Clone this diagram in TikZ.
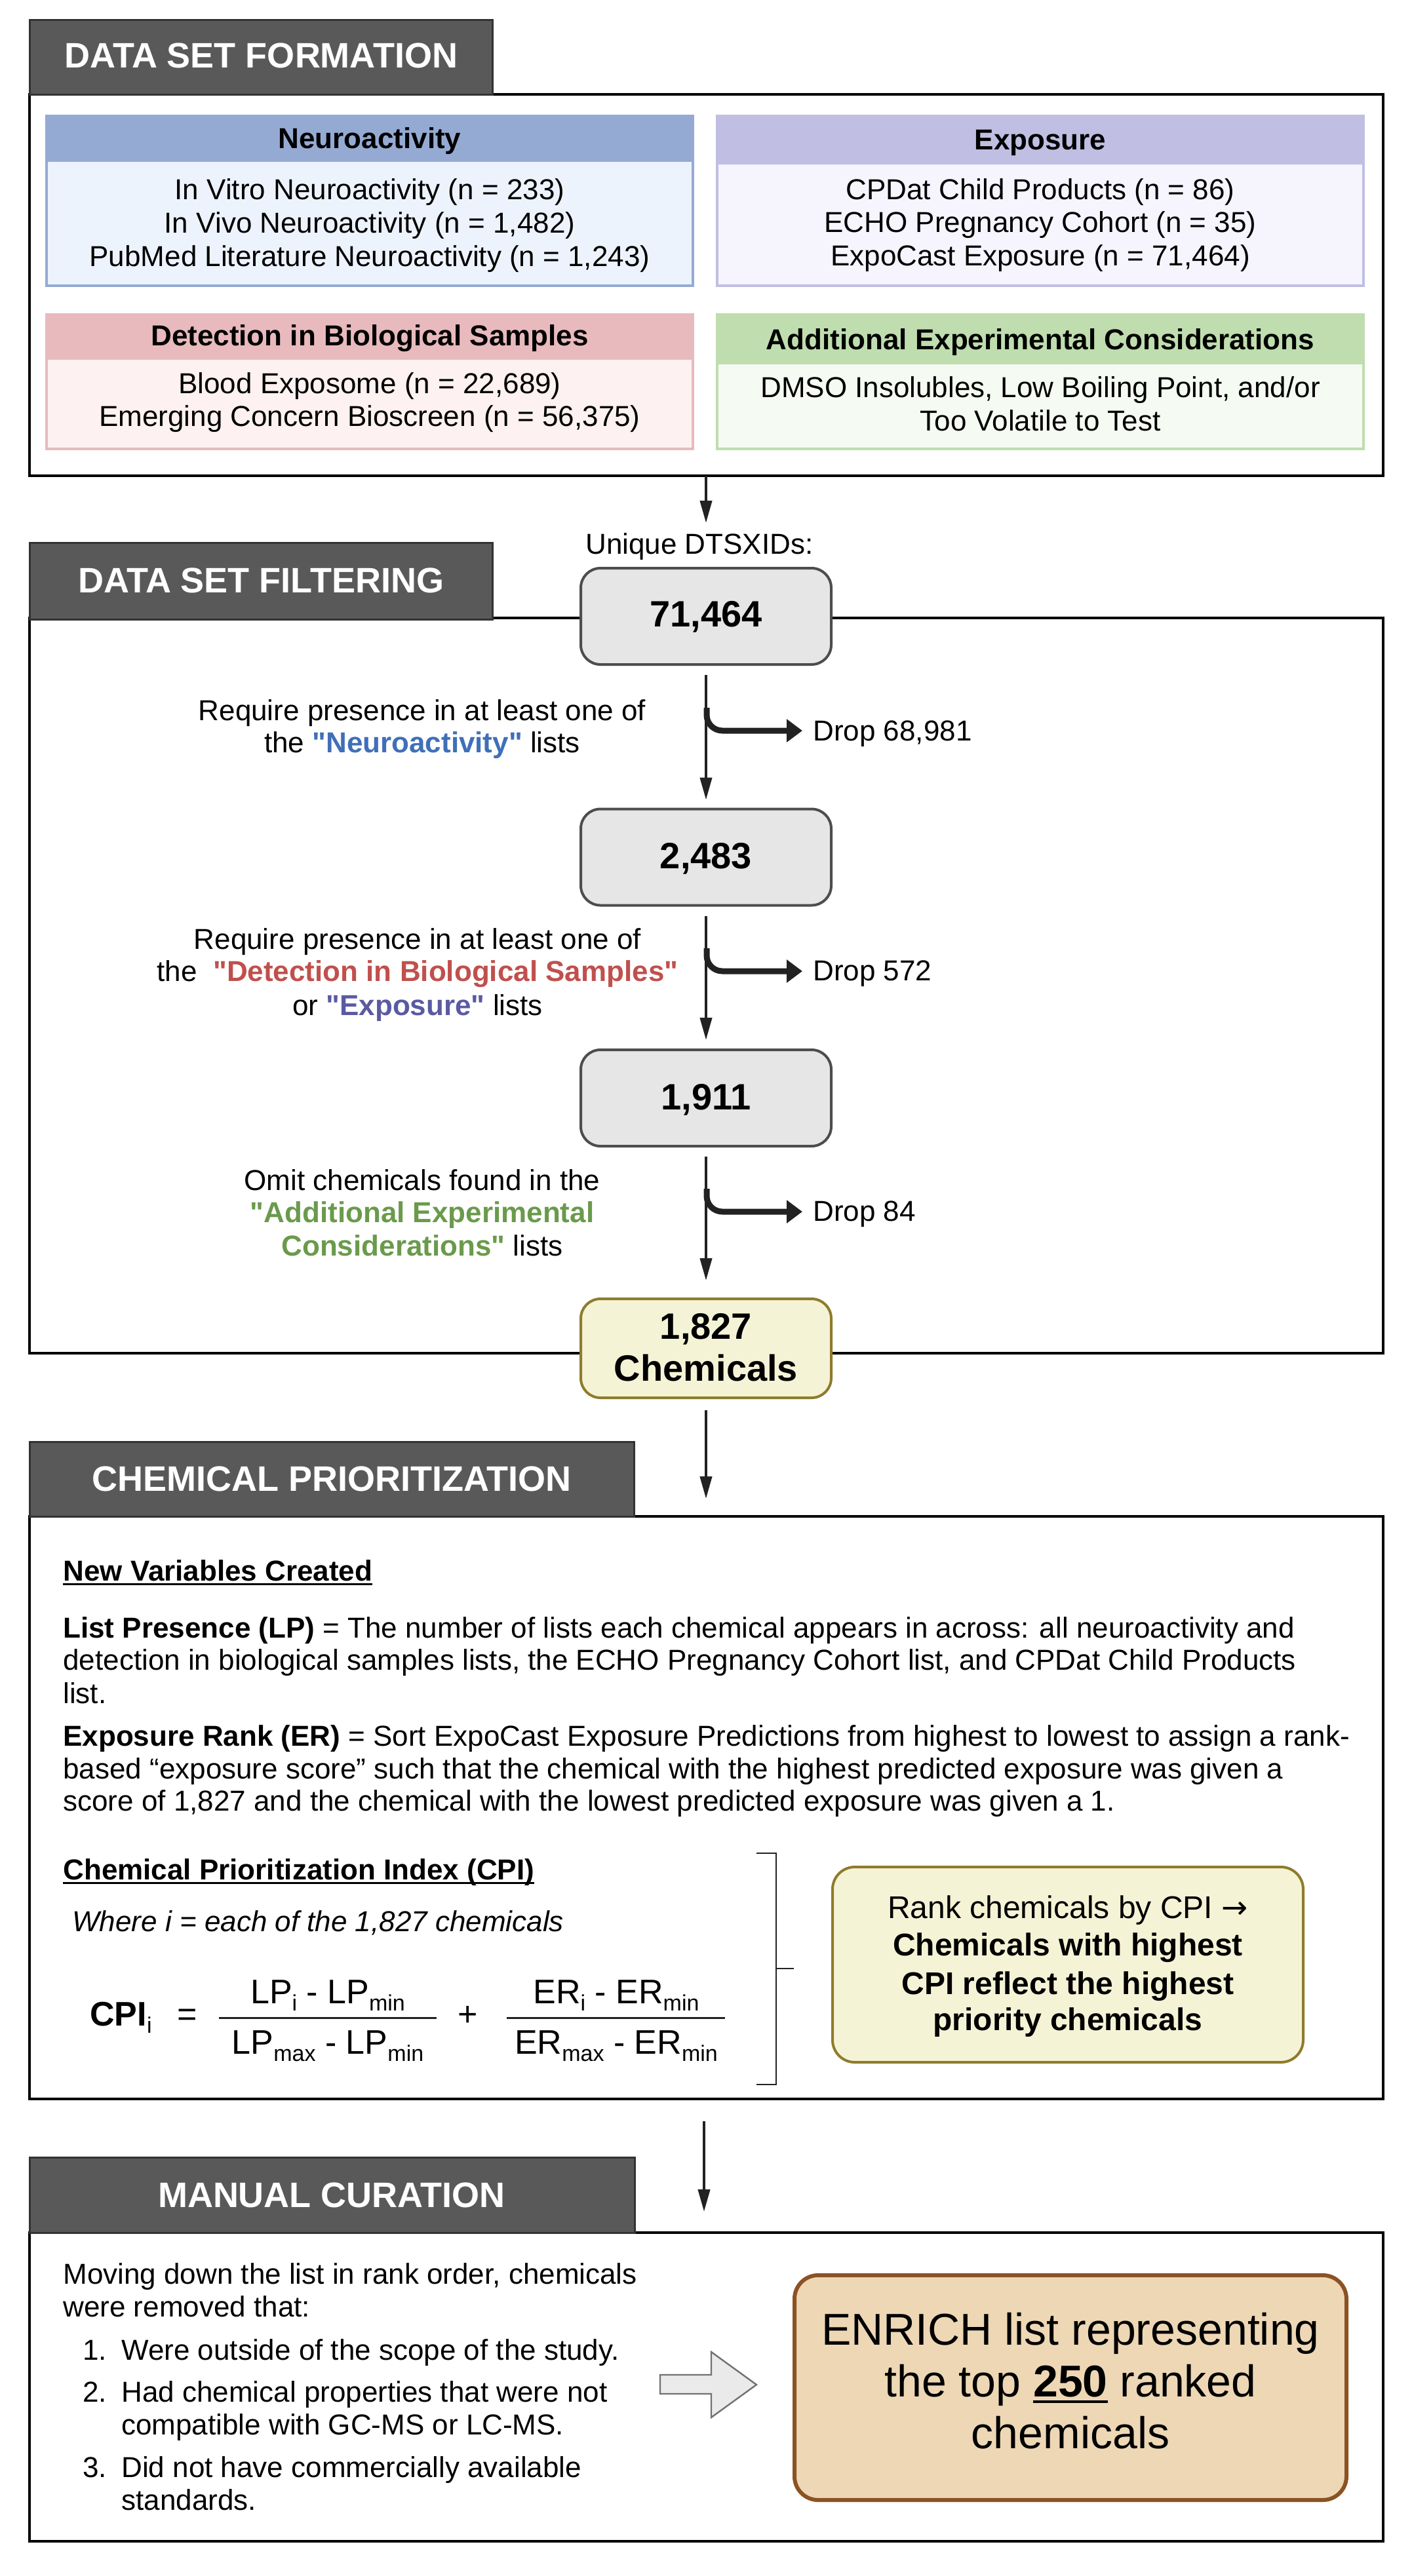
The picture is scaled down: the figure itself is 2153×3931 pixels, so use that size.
\documentclass[tikz,border=0pt]{standalone}
\usepackage{fontspec}
\setmainfont{Liberation Sans}
\newfontfamily\djv{DejaVu Sans}
\newfontfamily\qf{Liberation Sans}
\usetikzlibrary{arrows.meta}
\definecolor{tabfill}{HTML}{595959}
\definecolor{tabdraw}{HTML}{333333}
\definecolor{nahdr}{HTML}{95AAD3}
\definecolor{nabody}{HTML}{EDF3FC}
\definecolor{exhdr}{HTML}{C0BEE2}
\definecolor{exbody}{HTML}{F6F4FD}
\definecolor{dthdr}{HTML}{E8BABD}
\definecolor{dtbody}{HTML}{FDF1F1}
\definecolor{adhdr}{HTML}{BFDDAE}
\definecolor{adbody}{HTML}{F5FBF2}
\definecolor{grayfill}{HTML}{E6E6E6}
\definecolor{graydraw}{HTML}{4D4D4D}
\definecolor{yelfill}{HTML}{F5F3D6}
\definecolor{yeldraw}{HTML}{8E7C2C}
\definecolor{tanfill}{HTML}{EDD7B5}
\definecolor{tandraw}{HTML}{8B5224}
\definecolor{nablue}{HTML}{3F6FB8}
\definecolor{dtred}{HTML}{C0504D}
\definecolor{expurp}{HTML}{5A5AA3}
\definecolor{adgreen}{HTML}{6A9A4C}
\definecolor{arrcol}{HTML}{222222}
\newcommand\fsz[1]{\fontsize{#1}{#1}\selectfont}
\newcommand\sbx[1]{\raisebox{-0.22em}{\fontsize{17}{17}\selectfont #1}}
\newcommand\myul[1]{\leavevmode\setbox0\hbox{#1}\rlap{\rule[-0.15em]{\wd0}{0.065em}}\box0}
\newcommand\dq{{\qf"}}
\begin{document}
\begin{tikzpicture}[x=0.5pt,y=-0.5pt,
  tab/.style={fill=tabfill,draw=tabdraw,line width=1.5pt},
  tabtext/.style={text=white,font=\fsz{27}\bfseries,anchor=base,inner sep=0pt},
  secbox/.style={draw=black,line width=2pt},
  txt/.style={font=\fsz{22},anchor=base,inner sep=0pt},
  txtw/.style={txt,anchor=base west},
  hdrtxt/.style={txt,font=\fsz{22}\bfseries},
  cntbox/.style={rounded corners=15pt,fill=grayfill,draw=graydraw,line width=2pt,minimum width=191pt,minimum height=73.5pt,inner sep=0pt},
  cnttxt/.style={font=\fsz{28}\bfseries,anchor=base,inner sep=0pt},
  frm/.style={font=\fsz{26},anchor=base,inner sep=0pt},
  arr/.style={draw=arrcol,line width=2pt,-{Triangle[length=17pt,width=9pt]}},
  droparr/.style={draw=arrcol,line width=4.5pt,rounded corners=12pt,-{Triangle[length=12pt,width=17pt]}},
  innerbox/.style={line width=2pt}
]
\useasboundingbox (0,0) rectangle (2153,3931);
\fill[white] (0,0) rectangle (2153,3931);

% ================= SECTION 1 =================
\draw[secbox] (45,144) rectangle (2110,726);
\draw[tab] (45,30) rectangle (751,144);
\node[tabtext] (t1) at (398,103) {DATA SET FORMATION};

\fill[nabody] (71,177) rectangle (1057,436);
\fill[nahdr] (71,177) rectangle (1057,247);
\draw[innerbox,nahdr] (71,177) rectangle (1057,436);
\fill[exbody] (1094,177) rectangle (2080,436);
\fill[exhdr] (1094,177) rectangle (2080,251);
\draw[innerbox,exhdr] (1094,177) rectangle (2080,436);
\fill[dtbody] (71,480) rectangle (1057,685);
\fill[dthdr] (71,480) rectangle (1057,549);
\draw[innerbox,dthdr] (71,480) rectangle (1057,685);
\fill[adbody] (1094,480) rectangle (2080,685);
\fill[adhdr] (1094,480) rectangle (2080,556);
\draw[innerbox,adhdr] (1094,480) rectangle (2080,685);

\node[hdrtxt] (naH) at (564,226) {Neuroactivity};
\node[txt] (na1) at (564,304) {In Vitro Neuroactivity (n = 233)};
\node[txt] (na2) at (564,355) {In Vivo Neuroactivity (n = 1,482)};
\node[txt] (na3) at (564,406) {PubMed Literature Neuroactivity (n = 1,243)};
\node[hdrtxt] (exH) at (1587,228) {Exposure};
\node[txt] (ex1) at (1587,304) {CPDat Child Products (n = 86)};
\node[txt] (ex2) at (1587,354) {ECHO Pregnancy Cohort (n = 35)};
\node[txt] (ex3) at (1587,405) {ExpoCast Exposure (n = 71,464)};
\node[hdrtxt] (dtH) at (564,527) {Detection in Biological Samples};
\node[txt] (dt1) at (564,600) {Blood Exposome (n = 22,689)};
\node[txt] (dt2) at (564,650) {Emerging Concern Bioscreen (n = 56,375)};
\node[hdrtxt] (adH) at (1587,533) {Additional Experimental Considerations};
\node[txt] (ad1) at (1587,606) {DMSO Insolubles, Low Boiling Point, and/or};
\node[txt] (ad2) at (1587,657) {Too Volatile to Test};

\coordinate (s1b) at (1077,726);
\coordinate (a1t) at (1077,798);
\draw[arr] (s1b) -- (a1t);

% ================= SECTION 2 =================
\draw[secbox] (45,943) rectangle (2110,2065);
\draw[tab] (45,828) rectangle (751,945);
\node[tabtext] (t2) at (398,904) {DATA SET FILTERING};

\node[txt] (uniq) at (1067,845) {Unique DTSXIDs:};

\node[cntbox] (n1) at (1077,940.5) {};
\node[cnttxt] (n1t) at (1077,956) {71,464};
\node[cntbox] (n2) at (1077,1308) {};
\node[cnttxt] (n2t) at (1077,1325) {2,483};
\node[cntbox] (n3) at (1077,1675.5) {};
\node[cnttxt] (n3t) at (1077,1693) {1,911};
\node[cntbox,fill=yelfill,draw=yeldraw,minimum height=75.5pt] (n4) at (1077,2057.5) {};
\node[cnttxt] (n4a) at (1077,2043) {1,827};
\node[cnttxt] (n4b) at (1077,2107) {Chemicals};

\draw[arr] ([yshift=-7pt]n1.south) -- ([yshift=6pt]n2.north);
\draw[arr] ([yshift=-7pt]n2.south) -- ([yshift=6.5pt]n3.north);
\draw[arr] ([yshift=-7pt]n3.south) -- ([yshift=13pt]n4.north);

% drop branches
\node[txtw] (d1) at (1240,1130) {Drop 68,981};
\node[txtw] (d2) at (1240,1496) {Drop 572};
\node[txtw] (d3) at (1240,1863) {Drop 84};
\coordinate (b1) at (1078,1080);
\coordinate (b2) at (1078,1447);
\coordinate (b3) at (1078,1814);
\draw[droparr] (b1) |- ([xshift=-8pt]d1.west |- 0,1115);
\draw[droparr] (b2) |- ([xshift=-8pt]d2.west |- 0,1482);
\draw[droparr] (b3) |- ([xshift=-8pt]d3.west |- 0,1849);

% left texts
\node[txt] (r1a) at (644,1099) {Require presence in at least one of};
\node[txt] (r1b) at (644,1148) {the \textbf{\color{nablue}\dq Neuroactivity\dq} lists};
\node[txt] (r2a) at (637,1448) {Require presence in at least one of};
\node[txt] (r2b) at (637,1497) {the\ \ \textbf{\color{dtred}\dq Detection in Biological Samples\dq}};
\node[txt] (r2c) at (637,1549) {or \textbf{\color{expurp}\dq Exposure\dq} lists};
\node[txt] (r3a) at (644,1816) {Omit chemicals found in the};
\node[txt] (r3b) at (644,1865) {\textbf{\color{adgreen}\dq Additional Experimental}};
\node[txt] (r3c) at (644,1916) {\textbf{\color{adgreen}Considerations\dq} lists};

\coordinate (a4t) at (1077,2287);
\draw[arr] ([yshift=-8.5pt]n4.south) -- (a4t);

% ================= SECTION 3 =================
\draw[secbox] (45,2314) rectangle (2110,3203);
\draw[tab] (45,2200) rectangle (967,2314);
\node[tabtext] (t3) at (506,2275) {CHEMICAL PRIORITIZATION};

\node[txtw] (nv) at (96,2412) {\textbf{\myul{New Variables Created}}};
\node[txtw] (lp1) at (96,2499) {\textbf{List Presence (LP)} = The number of lists each chemical appears in across: all neuroactivity and};
\node[txtw] (lp2) at (96,2548) {detection in biological samples lists, the ECHO Pregnancy Cohort list, and CPDat Child Products};
\node[txtw] (lp3) at (96,2599) {list.};
\node[txtw] (er1) at (96,2664) {\textbf{Exposure Rank (ER)} = Sort ExpoCast Exposure Predictions from highest to lowest to assign a rank-};
\node[txtw] (er2) at (96,2714) {based “exposure score” such that the chemical with the highest predicted exposure was given a};
\node[txtw] (er3) at (96,2763) {score of 1,827 and the chemical with the lowest predicted exposure was given a 1.};
\node[txtw] (cpiH) at (96,2868) {\textbf{\myul{Chemical Prioritization Index (CPI)}}};
\node[txtw] (wh) at (110,2947) {\itshape Where i = each of the 1,827 chemicals};

\node[frm,anchor=base west] (cpi) at (137,3091) {\textbf{CPI}\sbx{i}};
\node[frm] (eq) at (286,3091) {=};
\node[frm] (f1n) at (500,3057) {LP\sbx{i} - LP\sbx{min}};
\node[frm] (f1d) at (500,3134) {LP\sbx{max} - LP\sbx{min}};
\draw[line width=1.5pt,arrcol] (334,3079) -- (666,3079);
\node[frm] (plus) at (714,3091) {+};
\node[frm] (f2n) at (940,3057) {ER\sbx{i} - ER\sbx{min}};
\node[frm] (f2d) at (940,3134) {ER\sbx{max} - ER\sbx{min}};
\draw[line width=1.5pt,arrcol] (773,3079) -- (1106,3079);

\draw[line width=1.3pt,arrcol] (1154,2828) -- (1184,2828) -- (1184,3181) -- (1154,3181);
\draw[line width=1.3pt,arrcol] (1184,3004) -- (1211,3004);

\node[rounded corners=17pt,fill=yelfill,draw=yeldraw,line width=2pt,minimum width=359pt,minimum height=149pt,inner sep=0pt] (rank) at (1629,2998) {};
\node[txt,font=\fsz{24}] (rk1) at (1629,2927) {Rank chemicals by CPI {\djv →}};
\node[txt,font=\fsz{24}\bfseries] (rk2) at (1629,2984) {Chemicals with highest};
\node[txt,font=\fsz{24}\bfseries] (rk3) at (1629,3043) {CPI reflect the highest};
\node[txt,font=\fsz{24}\bfseries] (rk4) at (1629,3098) {priority chemicals};

\coordinate (s3b) at (1074,3237);
\coordinate (a5t) at (1074,3375);
\draw[arr] (s3b) -- (a5t);

% ================= SECTION 4 =================
\draw[secbox] (45,3407) rectangle (2110,3878);
\draw[tab] (45,3292) rectangle (968,3407);
\node[tabtext] (t4) at (506,3368) {MANUAL CURATION};

\node[txtw] (mv1) at (96,3485) {Moving down the list in rank order, chemicals};
\node[txtw] (mv2) at (96,3535) {were removed that:};
\node[txtw] (i1n) at (126,3601) {1.};
\node[txtw] (i1) at (185,3601) {Were outside of the scope of the study.};
\node[txtw] (i2n) at (126,3665) {2.};
\node[txtw] (i2) at (185,3665) {Had chemical properties that were not};
\node[txtw] (i2b) at (185,3715) {compatible with GC-MS or LC-MS.};
\node[txtw] (i3n) at (126,3780) {3.};
\node[txtw] (i3) at (185,3780) {Did not have commercially available};
\node[txtw] (i3b) at (185,3830) {standards.};

\draw[fill=grayfill!85!white,draw=graydraw!80!white,line width=1.2pt,line join=miter]
  (1007,3624) -- (1085,3624) -- (1085,3589) -- (1154,3639) -- (1085,3689) -- (1085,3653) -- (1007,3653) -- cycle;

\node[rounded corners=18pt,fill=tanfill,draw=tandraw,line width=3pt,minimum width=421pt,minimum height=171.5pt,inner sep=0pt] (enr) at (1633,3643.5) {};
\node[txt,font=\fsz{34}] (en1) at (1633,3578) {ENRICH list representing};
\node[txt,font=\fsz{34}] (en2) at (1633,3657) {the top \textbf{\myul{250}} ranked};
\node[txt,font=\fsz{34}] (en3) at (1633,3736) {chemicals};
\end{tikzpicture}
\end{document}
